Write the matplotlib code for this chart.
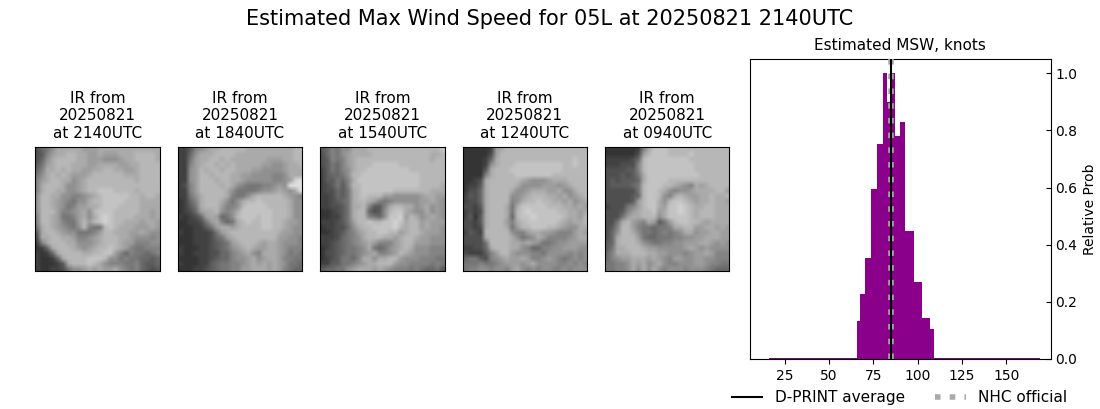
import numpy as np
import matplotlib
matplotlib.use('Agg')
import matplotlib.pyplot as plt

suptitle = 'Estimated Max Wind Speed for 05L at 20250821 2140UTC'
hist_title = 'Estimated MSW, knots'
times = ['2140UTC', '1840UTC', '1540UTC', '1240UTC', '0940UTC']
date = '20250821'

bin_edges = [16, 65.6, 67.3, 70.1, 73.5, 76.9, 80.3, 82.6, 84.8, 87.1, 89.9, 92.7, 97.8, 102.3, 106.8, 109.1, 169]
rel_prob = [0.005, 0.133, 0.228, 0.354, 0.595, 0.753, 1.0, 0.90, 1.0, 0.78, 0.83, 0.448, 0.27, 0.145, 0.105, 0.005]
dprint_avg = 84.8
nhc_official = 84.8
xticks = [25, 50, 75, 100, 125, 150]
yticks = [0.0, 0.2, 0.4, 0.6, 0.8, 1.0]

# IR brightness, estimated by eye from each panel (hex level per cell)
ir_2140 = ['3568aaaaa999aaaaaaaaaaaa', '3479aabbaa99a999aaabbbba', '358abbbbaa9998889aabbbba',
           '469abbbaaa99aaaa99aabbbb', '57aababaa99aabbaa99abbbb', '68ababa999abbbbbbaaabbbb',
           '79abbaa89abbbbbbbbbabbbb', '7abbba889abbbbbbbbbbbbbb', '7abbaa889abbcccbbbbabbbb',
           '8bbaa887789abcccccbbabba', '8bba987688abbccccbbbaaaa', '8bba986799aabcccbbbbaaaa',
           '8bbb97789a8bcccbbbbbaa9a', '7bba96679a8acdcbbbbaaa9a', '7bba97669b9bcdcbbaaa9aa9',
           '6aba98768b766bcbaaa999a9', '4abba98866679bbaaa99a988', '3aabbaa97789abbbaa988878',
           '27abbbaa8889abbba9977788', '125abbba989abbcba9766777', '2125abbbbaabbcc975766567',
           '21125abbbbcccb8867665545', '211124abbbcba87776675445', '2112236889a9a99a87675434']
ir_1840 = ['224789aabbbbbaaaaaaaaabb', '2258aaabbbbaaaaaaaaaaabb', '2269aabbabaaaaaaa999aabb',
           '2279abbababaaaaa99889aab', '2289babbabbaaa9988889aaa', '2289bbabbbaa998888778aaa',
           '2289bbbabbaa9888887789de', '2379bbbbaba8766677898eee', '2279bbbbba866667889a98ae',
           '2268abbbba7668abbbbba987', '1257abbba868abbcbbbbba88', '1246abbb9778bccccbbbba88',
           '12359aab878accccccbbba88', '212359a9568bcccbccbbba88', '1122369a756abcbbccbba998',
           '11122469aa9abbbbccbba988', '211222369abbbbbbbbba9988', '1112223569abbbbbbbb99887',
           '11122234569abbba9aa98887', '211122345689aba99aa98777', '2112223355789a87aaa98676',
           '11112234557889a89aa97766', '21112245667789a9a9a98665', '11122345667799aaa9a97655']
ir_1540 = ['457688aaabbbbbbbbbbbbbbc', '357689aaaabbbbbbbbbbbaab', '347679abbbbbbbbbbbbbbabb',
           '346579abbbcccccbbbbbbbbb', '246578abbccccccccbbbbbbb', '245568bbcccccccccccbbbbb',
           '244657accccccccccccbbbbb', '234647bbcccccccccccbbbba', '233546abccccccbbbbbbbaaa',
           '223546abcbbb99888889aa99', '223456abba97678888899a98', '223346aab7447abbaa89a898',
           '112346abb5348bcca988a898', '112246abb7658ccd9ba89a98', '2223469bbcbbccdcabb9a999',
           '1223358abbccccdbabb9a998', '11234679abbccbb9abba9998', '22235678abbbaa9abba99888',
           '223456789a97779abb999888', '123456678a65689aba888777', '1334566789a7789ba9888777',
           '12346657aa8aabb988877766', '224466789aabbb9887777676', '4556689aaa9a987776765564']
ir_1240 = ['1111129abbbbbbbbbbbbbbbb', '1111139bbbbbbbbbbbbbbbbb', '111125abbbbbbbbbbbbbbcbb',
           '111128abbbcccccccccbbcbb', '11114abbbccccccccccbbbbb', '11117abbbbcccccccbbbbbbb',
           '1123abbbbbba98889aaabbbb', '1224abbbbba888899989abbb', '1335abbbba889aaa99a88abb',
           '2435abbbb889abbbaa9a89ab', '2335abbbb78abbcbbaa9a89a', '3324abbba6acccccbbbaa9a9',
           '2323abbba6bcdcccccbbaa9a', '2414abbba5bccdcccccbaa9b', '3324abbb97abccccccba9aab',
           '3323abbba69bbcccbba988aa', '2432bbbbb8779aa9987779a9', '3333abbbba8678a9777789aa',
           '33336bbbbaa9a98667889999', '22335abbbaa8755778899988', '3222479bb988877688887878',
           '56643789a99a977898767878', '6667667899989a8888778787', '6778878879a8787887787888']
ir_0940 = ['11111127acccbbbbbbbbbbbb', '11111139bcccbbbbcbbbbbbb', '2222235bccccccccbbbbbbbb',
           '2223337bcccccccccbbbbbbb', '3333447bcccccccccbbbbbbb', '3334346accccccccccbbbbbb',
           '3434445accccbbbbbbbbbbbb', '3444456bcccbba987a9abbbb', '3333336bccba87889aaaabb9',
           '3333345bccb87aba99aabaab', '3333349bcca8bccba9aabaa9', '2333679bcca9ccdcbaabbaaa',
           '333479abbc9accdcbabbbaaa', '33369aabbb8accccbabbbaaa', '336ab987a9469bccbba9aaaa',
           '347bb97665667aabb99aa9a9', '358bba866567678aa899aa99', '35abbb9655666778899aaa99',
           '45abbba87667788999aa9898', '46aabbba99888889a9898888', '57aaabbbaa998887899a9777',
           '57899aaa9a98799889988777', '66778a9a89a8778889987766', '66778a8a8a87888788876555']

ir_rows = [ir_2140, ir_1840, ir_1540, ir_1240, ir_0940]
panel_left = [35.3, 177.7, 320.1, 462.5, 604.9]

W, H = 1100, 409
fig = plt.figure(figsize=(W / 100, H / 100), dpi=100)
fig.suptitle(suptitle, fontsize=15, x=0.5, y=0.977)

for rows, left, t in zip(ir_rows, panel_left, times):
    ax = fig.add_axes([left / W, 1 - 271 / H, 124.5 / W, 124 / H])
    grid = np.array([[int(c, 16) for c in (r + r[-1] * 24)[:24]] for r in rows[:24]], dtype=float)
    ax.imshow(40 + 13 * grid, cmap='gray', vmin=0, vmax=255, interpolation='bilinear', aspect='auto')
    ax.set_xlim(-0.4, 23.4)
    ax.set_ylim(23.4, -0.4)
    ax.set_xticks([])
    ax.set_yticks([])
    ax.set_title(f'IR from\n{date}\nat {t}', fontsize=11, pad=6.7)

ax = fig.add_axes([750 / W, 1 - 359 / H, 300.5 / W, 300 / H])
edges = np.array(bin_edges)
ax.bar(edges[:-1], rel_prob, width=np.diff(edges), align='edge', color='darkmagenta', linewidth=0)
l2, = ax.plot([nhc_official, nhc_official], [0, 1], transform=ax.get_xaxis_transform(), color='darkgrey', lw=4, ls=':', zorder=3, label='NHC official')
l1, = ax.plot([dprint_avg, dprint_avg], [0, 1], transform=ax.get_xaxis_transform(), color='k', lw=1.5, zorder=4, label='D-PRINT average')
ax.set_xlim(5.5, 174.8)
ax.set_ylim(0, 1.05)
ax.set_xticks(xticks)
ax.set_yticks(yticks)
ax.yaxis.tick_right()
ax.tick_params(axis='y', direction='in')
ax.yaxis.set_label_position('right')
ax.set_ylabel('Relative Prob')
ax.set_title(hist_title, fontsize=11, pad=6.7)
fig.legend(handles=[l1, l2], ncol=2, frameon=False, fontsize=11,
           loc='lower right', bbox_to_anchor=(1081 / W, -0.024), columnspacing=2.01)
fig.savefig('out.png', dpi=100)
